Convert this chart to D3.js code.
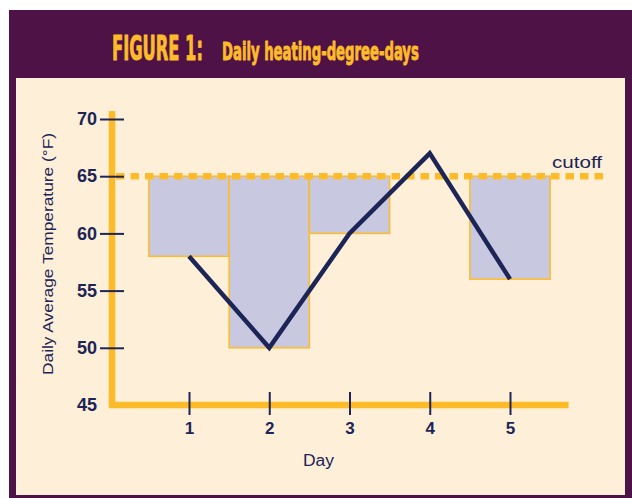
<!DOCTYPE html>
<html><head><meta charset="utf-8">
<script src="https://cdn.jsdelivr.net/npm/d3@7"></script>
<style>html,body{margin:0;padding:0;background:#fff;}svg{display:block;}</style>
</head><body>
<script>
const days = [1, 2, 3, 4, 5];
const temps = [58, 50, 60, 67, 56];
const cutoff = 65;
const yTicks = [45, 50, 55, 60, 65, 70];
const titleMain = "FIGURE 1:";
const titleSub = "Daily heating-degree-days";
const xLabel = "Day";
const yLabel = "Daily Average Temperature (°F)";
const cutoffLabel = "cutoff";

const W = 632, H = 498;
const navy = "#1c2556", orange = "#FDBB2A", purple = "#4E1246", cream = "#FEEFD8", fillC = "#C8C8E0";

const svg = d3.select("body").append("svg").attr("width", W).attr("height", H);
svg.append("rect").attr("x", 9).attr("y", 10).attr("width", W - 9).attr("height", H - 10).attr("fill", purple);
svg.append("rect").attr("x", 16).attr("y", 78).attr("width", 609).attr("height", 417).attr("fill", cream);

// title (condensed by horizontal scaling)
const tf = "'DejaVu Sans Condensed', 'DejaVu Sans', sans-serif";
function squeezed(txt, x0, yb, size, targetW) {
  const t = svg.append("text").attr("x", 0).attr("y", 0).text(txt)
    .attr("font-family", tf).attr("font-weight", "bold").attr("font-size", size)
    .attr("fill", orange).attr("stroke", orange).attr("stroke-width", 0.9).attr("stroke-linejoin", "round");
  const w = t.node().getComputedTextLength();
  t.attr("transform", `translate(${x0},${yb}) scale(${targetW / w},1)`);
}
squeezed(titleMain, 112, 60, 33, 91);
squeezed(titleSub, 222, 59.5, 24.5, 197);

const x = d3.scaleLinear().domain([1, 5]).range([189, 510]);
const y = d3.scaleLinear().domain([45, 70]).range([405, 119]);
const bw = x(2) - x(1);
const font = "'Liberation Sans', Arial, sans-serif";

// bars (below cutoff only)
const barData = days.map((d, i) => ({ d, t: temps[i] })).filter(o => o.t < cutoff);
svg.append("g").selectAll("rect").data(barData).join("rect")
  .attr("x", o => x(o.d) - bw / 2).attr("width", bw)
  .attr("y", y(cutoff)).attr("height", o => y(o.t) - y(cutoff))
  .attr("fill", fillC).attr("stroke", orange).attr("stroke-width", 1.5);

// cutoff dashed line
svg.append("line").attr("x1", 116).attr("x2", 605).attr("y1", y(cutoff)).attr("y2", y(cutoff))
  .attr("stroke", orange).attr("stroke-width", 6.5).attr("stroke-dasharray", "8.5,6");
svg.append("text").attr("x", 552).attr("y", y(cutoff) - 8)
  .attr("font-family", font).attr("font-size", 16).attr("fill", navy)
  .attr("textLength", 50).attr("lengthAdjust", "spacingAndGlyphs").text(cutoffLabel);

// axes lines (orange)
svg.append("path").attr("d", `M${112},${111} V${405} H${x(5.73)}`)
  .attr("fill", "none").attr("stroke", orange).attr("stroke-width", 6.5);

// y axis ticks & labels
const yAxis = d3.axisLeft(y).tickValues(yTicks).tickSize(0).tickPadding(15);
const gy = svg.append("g").attr("transform", "translate(112,0)").call(yAxis);
gy.select(".domain").remove();
gy.selectAll(".tick text").attr("font-family", font).attr("font-weight", "bold").attr("font-size", 18).attr("fill", navy);
gy.selectAll(".tick").filter(d => d !== 45).append("line")
  .attr("x1", -12).attr("x2", 12).attr("stroke", navy).attr("stroke-width", 2);

// x axis
const xAxis = d3.axisBottom(x).tickValues(days).tickFormat(d3.format("d")).tickSize(0).tickPadding(17);
const gx = svg.append("g").attr("transform", "translate(0,405)").call(xAxis);
gx.select(".domain").remove();
gx.selectAll(".tick text").attr("font-family", font).attr("font-weight", "bold").attr("font-size", 17).attr("fill", navy);
gx.selectAll(".tick").append("line").attr("y1", -13).attr("y2", 10).attr("stroke", navy).attr("stroke-width", 2);

svg.append("text").attr("x", 303).attr("y", 466)
  .attr("font-family", font).attr("font-size", 16).attr("fill", navy)
  .attr("textLength", 31).attr("lengthAdjust", "spacingAndGlyphs").text(xLabel);
svg.append("text").attr("transform", "translate(53,375) rotate(-90)")
  .attr("font-family", font).attr("font-size", 14.5).attr("fill", navy)
  .attr("textLength", 242).attr("lengthAdjust", "spacingAndGlyphs").text(yLabel);

// temperature line
svg.append("path").datum(days.map((d, i) => [d, temps[i]]))
  .attr("d", d3.line().x(p => x(p[0])).y(p => y(p[1])))
  .attr("fill", "none").attr("stroke", navy).attr("stroke-width", 4.5).attr("stroke-linejoin", "miter");
</script>
</body></html>
